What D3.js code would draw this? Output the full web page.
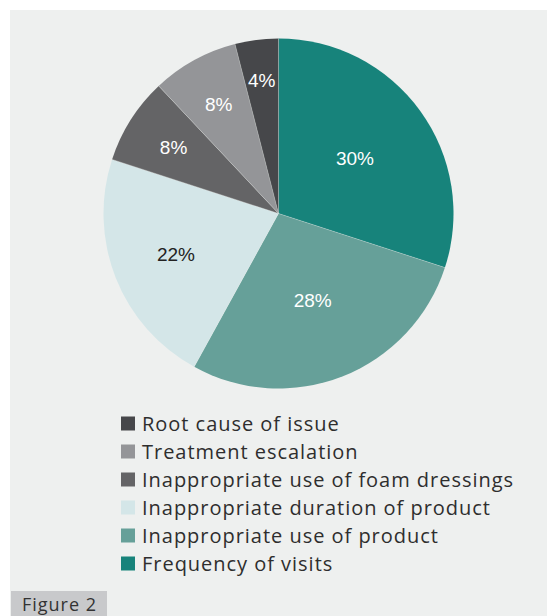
<!DOCTYPE html>
<html>
<head>
<meta charset="utf-8">
<script src="https://cdn.jsdelivr.net/npm/d3@7"></script>
<style>
  html, body { margin: 0; padding: 0; background: #ffffff; }
  svg { display: block; }
</style>
</head>
<body>
<svg id="chart" width="547" height="616"></svg>
<script>
// Reasons, in clockwise order from 12 o'clock
const categories = [
  "Frequency of visits",
  "Inappropriate use of product",
  "Inappropriate duration of product",
  "Inappropriate use of foam dressings",
  "Treatment escalation",
  "Root cause of issue"
];
const shares = [30, 28, 22, 8, 8, 4];
const sliceColors = ["#17837b", "#66a099", "#d4e6e8", "#646466", "#949598", "#46474a"];
const labelColors = ["#ffffff", "#ffffff", "#222222", "#ffffff", "#ffffff", "#ffffff"];
// Legend lists the reasons bottom-up
const legendOrder = [5, 4, 3, 2, 1, 0];

const svg = d3.select("#chart");
const W = 547, H = 616;

// Light panel
svg.append("rect")
  .attr("x", 10).attr("y", 10)
  .attr("width", W - 10).attr("height", H - 10)
  .attr("fill", "#eef0ef");

const cx = 278.5, cy = 213.5, R = 175;

const pie = d3.pie().sort(null).value(d => d.value);
const arcs = pie(shares.map((v, i) => ({ value: v, i })));
const arc = d3.arc().innerRadius(0).outerRadius(R);

// Smaller slices push their labels further out
const labelRadius = d3.scaleLinear()
  .domain([4, 8, 22, 28, 30])
  .range([0.77, 0.71, 0.63, 0.53, 0.54])
  .clamp(true);

const g = svg.append("g").attr("transform", `translate(${cx},${cy})`);

g.selectAll("path.slice")
  .data(arcs)
  .join("path")
  .attr("class", "slice")
  .attr("d", arc)
  .attr("fill", d => sliceColors[d.data.i]);

// Thin light separators between slices
g.selectAll("line.sep")
  .data(arcs)
  .join("line")
  .attr("class", "sep")
  .attr("x1", 0).attr("y1", 0)
  .attr("x2", d => R * Math.sin(d.startAngle))
  .attr("y2", d => -R * Math.cos(d.startAngle))
  .attr("stroke", "#eef0ef")
  .attr("stroke-opacity", 0.5)
  .attr("stroke-width", 0.6);

g.selectAll("text.val")
  .data(arcs)
  .join("text")
  .attr("class", "val")
  .attr("transform", d => {
    const r = R * labelRadius(d.data.value);
    const a = (d.startAngle + d.endAngle) / 2;
    return `translate(${r * Math.sin(a)},${-r * Math.cos(a)})`;
  })
  .attr("text-anchor", "middle")
  .attr("dy", "0.36em")
  .attr("font-family", "'Liberation Sans', Arial, sans-serif")
  .attr("font-size", 19)
  .attr("fill", d => labelColors[d.data.i])
  .text(d => d.data.value + "%");

// Legend
const legendX = 121, legendY0 = 423.5, rowH = 28, legendTextWidth = 372;
const legend = svg.append("g");
const rows = legend.selectAll("g.row")
  .data(legendOrder)
  .join("g")
  .attr("class", "row")
  .attr("transform", (d, k) => `translate(${legendX},${legendY0 + k * rowH})`);

rows.append("rect")
  .attr("x", 0).attr("y", -7)
  .attr("width", 14).attr("height", 14)
  .attr("fill", d => sliceColors[d]);

const legendText = rows.append("text")
  .attr("x", 21).attr("y", 0)
  .attr("dy", "0.36em")
  .attr("font-family", "'Open Sans', sans-serif")
  .attr("font-size", 20)
  .attr("fill", "#2e2e2e")
  .text(d => categories[d]);

// Spread the letters so the longest entry spans the legend width
let longest = 0, longestChars = 1;
legendText.each(function(d) {
  const w = this.getComputedTextLength();
  if (w > longest) { longest = w; longestChars = categories[d].length; }
});
legendText.attr("letter-spacing", Math.max(0, (legendTextWidth - longest) / longestChars));

// Figure tab
svg.append("rect")
  .attr("x", 11).attr("y", 591)
  .attr("width", 96).attr("height", 25)
  .attr("fill", "#c8c9cb");
const tab = svg.append("text")
  .attr("x", 22).attr("y", 610.5)
  .attr("font-family", "'Open Sans', sans-serif")
  .attr("font-size", 18)
  .attr("fill", "#333333")
  .text("Figure 2");
const tabW = tab.node().getComputedTextLength();
tab.attr("letter-spacing", Math.max(0, (75 - tabW) / 8));
</script>
</body>
</html>
